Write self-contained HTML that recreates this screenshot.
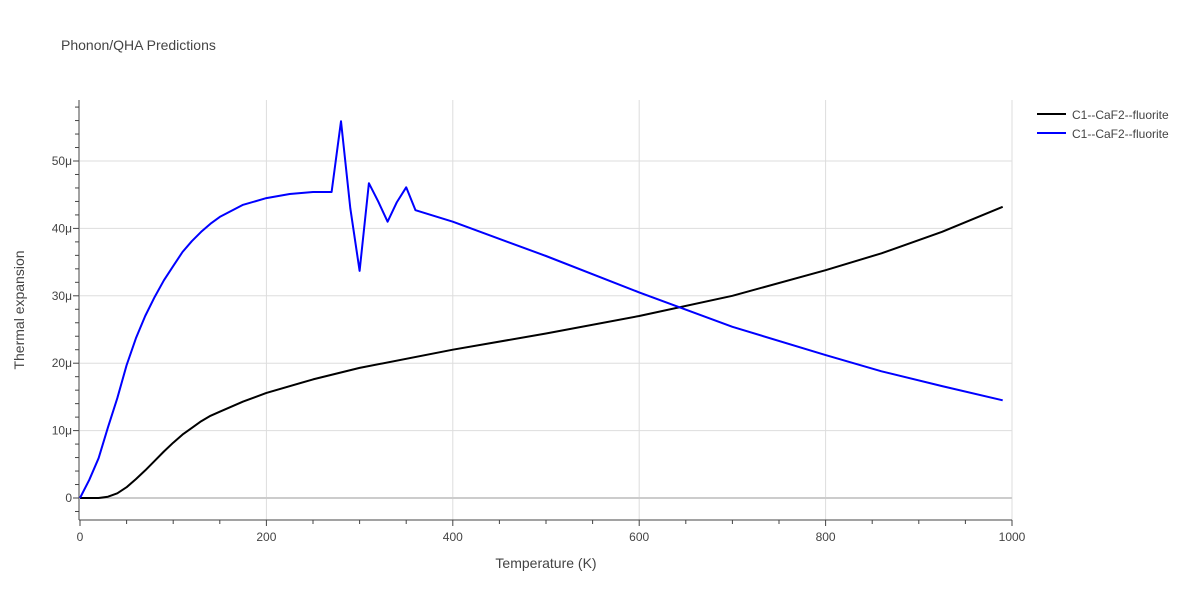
<!DOCTYPE html>
<html><head><meta charset="utf-8"><style>
body{margin:0;background:#fff;font-family:"Liberation Sans",sans-serif;}
svg text{font-family:"Liberation Sans",sans-serif;fill:#444;}
</style></head><body>
<svg id="chart" width="1200" height="600">
<text x="61" y="50" font-size="14">Phonon/QHA Predictions</text>
<g id="grid"></g>
<g id="axes"></g>
<g id="series"></g>
<text x="546" y="568" font-size="14" text-anchor="middle">Temperature (K)</text>
<text x="24" y="310" font-size="14" text-anchor="middle" transform="rotate(-90 24 310)">Thermal expansion</text>
<g>
<g><line x1="1037" y1="114" x2="1066" y2="114" stroke="#000" stroke-width="2"/><text x="1072" y="119" font-size="12">C1--CaF2--fluorite</text></g>
<g><line x1="1037" y1="133" x2="1066" y2="133" stroke="#0000ff" stroke-width="2"/><text x="1072" y="138" font-size="12">C1--CaF2--fluorite</text></g>
</g>
</svg>
<script>
const blackT=[0,20,30,40,50,60,70,80,90,100,110,120,130,140,150,175,200,250,300,400,500,600,700,800,860,925,990];
const blackV=[0,0,0.2,0.7,1.6,2.8,4.1,5.5,6.9,8.2,9.4,10.4,11.4,12.2,12.8,14.3,15.6,17.6,19.3,22,24.4,27,30,33.8,36.3,39.5,43.2];
const blueT=[0,10,20,30,40,50,60,70,80,90,100,110,120,130,140,150,175,200,225,250,270,280,290,300,310,320,330,340,350,360,400,500,600,700,800,860,925,990];
const blueV=[0,2.7,5.9,10.5,14.8,19.7,23.7,27,29.8,32.3,34.4,36.5,38.1,39.5,40.7,41.7,43.5,44.5,45.1,45.4,45.4,55.9,43,33.7,46.7,44,41,43.9,46.1,42.7,41,35.9,30.5,25.4,21.2,18.8,16.6,14.5];
const xTicks=[0,200,400,600,800,1000];
const yTicks=[0,10,20,30,40,50];
const yTickLabels=["0","10μ","20μ","30μ","40μ","50μ"];
const NS="http://www.w3.org/2000/svg";
const X=t=>80+t*0.932;
const Y=v=>498-v*6.74;
function mk(tag,attrs,parent){const e=document.createElementNS(NS,tag);for(const k in attrs)e.setAttribute(k,attrs[k]);parent.appendChild(e);return e;}
const grid=document.getElementById('grid'),axes=document.getElementById('axes'),series=document.getElementById('series');
xTicks.forEach((t,i)=>{if(t>0){const l=mk('line',{x1:X(t),x2:X(t),y1:100,y2:520,stroke:'#ddd'},grid);

}
const tx=mk('text',{x:X(t),y:541,'font-size':12,'text-anchor':'middle'},axes);tx.textContent=t;

});
for(let t=0;t<=1000;t+=50){mk('line',{x1:X(t),x2:X(t),y1:520,y2:t%200==0?526:524,stroke:'#444'},axes);}
yTicks.forEach((v,i)=>{const l=mk('line',{x1:80,x2:1012,y1:Y(v),y2:Y(v),stroke:v==0?'#ccc':'#ddd','stroke-width':v==0?2:1},grid);


const tx=mk('text',{x:72,y:Y(v)+4,'font-size':12,'text-anchor':'end'},axes);tx.textContent=yTickLabels[i];

});
for(let v=-2;v<=58;v+=2){mk('line',{x1:v%10==0?73:75,x2:79,y1:Y(v),y2:Y(v),stroke:'#444'},axes);}
mk('line',{x1:79,x2:79,y1:100,y2:520,stroke:'#444'},axes);
mk('line',{x1:79,x2:1012,y1:520,y2:520,stroke:'#444'},axes);
function path(T,V,c,name){const d=T.map((t,i)=>(i?'L':'M')+X(t).toFixed(1)+','+Y(V[i]).toFixed(1)).join('');
const p=mk('path',{d:d,fill:'none',stroke:c,'stroke-width':2,'stroke-linejoin':'round'},series);

}
path(blackT,blackV,'#000','series-black-line');
path(blueT,blueV,'#0000ff','series-blue-line');
</script>
</body></html>
